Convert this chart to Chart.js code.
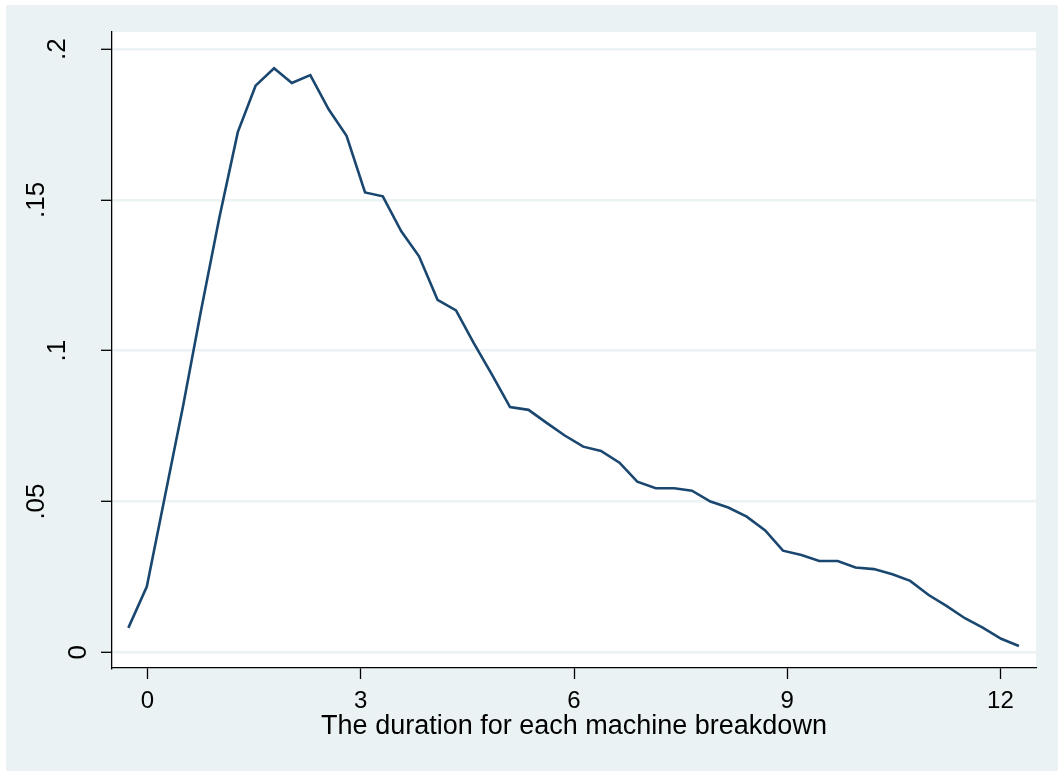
<!DOCTYPE html>
<html>
<head>
<meta charset="utf-8">
<script src="https://cdn.jsdelivr.net/npm/chart.js@4.4.1/dist/chart.umd.min.js"></script>
<style>
  html, body { margin: 0; padding: 0; background: #ffffff; }
  #wrap { position: absolute; left: 6px; top: 5px; width: 1052px; height: 766px; }
  canvas { display: block; background: #eaf2f3; }
</style>
</head>
<body>
<div id="wrap"><canvas id="c" width="1052" height="766"></canvas></div>
<script>
// ---- data ----
const durationX = [-0.27, -0.01, 0.24, 0.50, 0.75, 1.01, 1.27, 1.52, 1.78, 2.03,
                   2.29, 2.55, 2.80, 3.06, 3.31, 3.57, 3.82, 4.08, 4.34, 4.59,
                   4.85, 5.10, 5.36, 5.62, 5.87, 6.13, 6.38, 6.64, 6.89, 7.15,
                   7.41, 7.66, 7.92, 8.17, 8.43, 8.69, 8.94, 9.20, 9.45, 9.71,
                   9.96, 10.22, 10.48, 10.73, 10.99, 11.24, 11.50, 11.75, 12.01, 12.26];
const densityY = [0.0081, 0.0218, 0.0512, 0.0817, 0.1130, 0.1441, 0.1725, 0.1879, 0.1937, 0.1888,
                  0.1914, 0.1800, 0.1713, 0.1525, 0.1512, 0.1396, 0.1313, 0.1169, 0.1134, 0.1025,
                  0.0919, 0.0813, 0.0804, 0.0760, 0.0719, 0.0682, 0.0668, 0.0629, 0.0566, 0.0544,
                  0.0544, 0.0536, 0.0500, 0.0480, 0.0450, 0.0404, 0.0337, 0.0323, 0.0303, 0.0303,
                  0.0281, 0.0276, 0.0259, 0.0237, 0.0190, 0.0154, 0.0113, 0.0082, 0.0045, 0.0021];
const xTickValues = [0, 3, 6, 9, 12];
const xTickLabels = ['0', '3', '6', '9', '12'];
const yTickValues = [0, 0.05, 0.1, 0.15, 0.2];
const yTickLabels = ['0', '.05', '.1', '.15', '.2'];
const xAxisTitle = 'The duration for each machine breakdown';

// ---- chart ----
const FONT = "'Liberation Sans', Arial, Helvetica, sans-serif";
const LIGHT = '#eaf2f3';
const NAVY = '#1a476f';

const plotBg = {
  id: 'plotBg',
  beforeDraw(chart) {
    const {ctx, chartArea: a} = chart;
    ctx.save();
    ctx.fillStyle = '#ffffff';
    ctx.fillRect(a.left, a.top, a.right - a.left, a.bottom - a.top);
    ctx.restore();
  }
};

function labelFor(values, labels, v) {
  const i = values.findIndex(t => Math.abs(t - v) < 1e-9);
  return i >= 0 ? labels[i] : '';
}

new Chart(document.getElementById('c'), {
  type: 'line',
  data: {
    datasets: [{
      data: durationX.map((x, i) => ({x: x, y: densityY[i]})),
      borderColor: NAVY,
      borderWidth: 2.6,
      pointRadius: 0,
      tension: 0,
      fill: false
    }]
  },
  options: {
    responsive: false,
    animation: false,
    devicePixelRatio: 1,
    layout: { padding: { left: 0, top: 27, right: 22, bottom: 0 }, autoPadding: false },
    plugins: { legend: { display: false }, tooltip: { enabled: false } },
    scales: {
      x: {
        type: 'linear',
        min: -0.5,
        max: 12.5,
        afterBuildTicks(scale) { scale.ticks = xTickValues.map(v => ({value: v})); },
        afterFit(scale) { scale.height = 103; scale.paddingLeft = 0; scale.paddingRight = 0; },
        ticks: {
          autoSkip: false,
          maxRotation: 0,
          padding: 8,
          color: '#000000',
          font: { family: FONT, size: 24 },
          callback: (v) => labelFor(xTickValues, xTickLabels, v)
        },
        grid: {
          drawOnChartArea: false,
          drawTicks: true,
          tickLength: 11,
          tickColor: '#000000',
          tickWidth: 1.3
        },
        border: { display: true, color: '#000000', width: 1.3 },
        title: {
          display: true,
          text: xAxisTitle,
          color: '#000000',
          font: { family: FONT, size: 27 },
          padding: { top: 0, bottom: 28 }
        }
      },
      y: {
        type: 'linear',
        min: -0.0052,
        max: 0.2057,
        afterBuildTicks(scale) { scale.ticks = yTickValues.map(v => ({value: v})); },
        afterFit(scale) { scale.width = 106; scale.paddingTop = 0; scale.paddingBottom = 0; },
        ticks: {
          autoSkip: false,
          minRotation: 90,
          maxRotation: 90,
          crossAlign: 'center',
          padding: 25,
          color: '#000000',
          font: { family: FONT, size: 26, lineHeight: '42px' },
          callback: (v) => {
            const s = labelFor(yTickValues, yTickLabels, v);
            // Stata-style placement: shorter labels sit closer to the axis
            if (s.length <= 1) return ['', s];
            if (s.length >= 3) return [s, ''];
            return s;
          }
        },
        grid: {
          color: LIGHT,
          lineWidth: 2.6,
          drawTicks: true,
          tickLength: 11,
          tickColor: '#000000',
          tickWidth: 1.3
        },
        border: { display: true, color: '#000000', width: 1.3 }
      }
    }
  },
  plugins: [plotBg]
});
</script>
</body>
</html>
